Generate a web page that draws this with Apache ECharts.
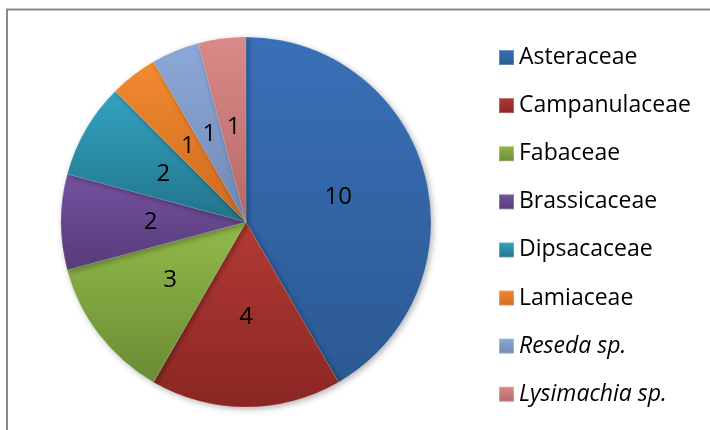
<!DOCTYPE html>
<html>
<head>
<meta charset="utf-8">
<script src="https://cdn.jsdelivr.net/npm/echarts@6/dist/echarts.min.js"></script>
<style>html,body{margin:0;padding:0;background:#fff;}#c{width:710px;height:430px;}</style>
</head>
<body>
<div id="c"></div>
<script>
const categories = ['Asteraceae','Campanulaceae','Fabaceae','Brassicaceae','Dipsacaceae','Lamiaceae','Reseda sp.','Lysimachia sp.'];
const values = [10,4,3,2,2,1,1,1];
const italicNames = ['Reseda sp.','Lysimachia sp.'];
const colorTop = ['#3A70B8','#B33A35','#92BA4A','#7652A2','#33A3C0','#F28A31','#8DA9D9','#DA8A88'];
const colorBottom = ['#2B5992','#8A2623','#6B8B33','#563B79','#21738A','#CE6A1C','#7088B4','#B56967'];

const FONT = '"Open Sans", "Liberation Sans", sans-serif';
const chart = echarts.init(document.getElementById('c'), null, {renderer:'canvas'});
const data = categories.map((n,i)=>({
  name:n, value:values[i],
  itemStyle:{color:new echarts.graphic.LinearGradient(0,0,0,1,[{offset:0,color:colorTop[i]},{offset:1,color:colorBottom[i]}])}
}));
chart.setOption({
  animation:false,
  graphic:[{type:'rect',shape:{x:7,y:9.5,width:800,height:500},style:{fill:'none',stroke:'#8a8a8a',lineWidth:2},silent:true}],
  legend:{
    orient:'vertical', left:498, top:46, padding:0,
    itemWidth:15, itemHeight:15, itemGap:25.1,
    icon:'rect',
    textStyle:{fontSize:23, lineHeight:23, fontFamily:FONT, color:'#000'},
    data:categories.map(n=>italicNames.includes(n)?{name:n,textStyle:{fontStyle:'italic'}}:{name:n})
  },
  series:[{
    type:'pie', center:[246,222], radius:185, startAngle:90, clockwise:true,
    label:{show:true, position:'inside', formatter:'{c}', color:'#000', fontSize:24, fontFamily:FONT},
    labelLine:{show:false},
    itemStyle:{borderColor:'rgba(255,255,255,0.25)', borderWidth:0.5, shadowBlur:6, shadowOffsetX:2, shadowOffsetY:2, shadowColor:'rgba(0,0,0,0.3)'},
    emphasis:{disabled:true},
    data:data
  }]
});
</script>
</body>
</html>
